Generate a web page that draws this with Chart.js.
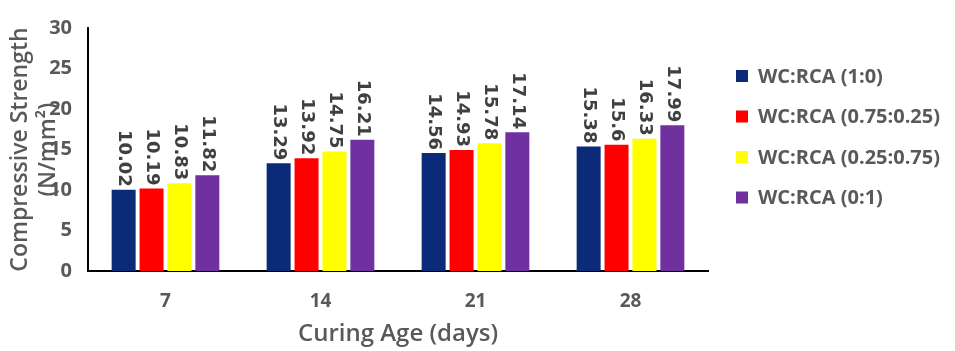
<!DOCTYPE html>
<html>
<head>
<meta charset="utf-8">
<script src="https://cdn.jsdelivr.net/npm/chart.js@4.4.1/dist/chart.umd.min.js"></script>
<style>
  html, body { margin: 0; padding: 0; background: #ffffff; }
  #wrap { width: 955px; height: 351px; position: relative; }
</style>
</head>
<body>
<div id="wrap"><canvas id="chart" width="955" height="351"></canvas></div>
<script>
// Curing ages (days) on the x axis
const categories = ['7', '14', '21', '28'];

// Series names
const seriesNames = ['WC:RCA (1:0)', 'WC:RCA (0.75:0.25)', 'WC:RCA (0.25:0.75)', 'WC:RCA (0:1)'];

// Compressive strength (N/mm²) per mix
const mix_1_0 = [10.02, 13.29, 14.56, 15.38];
const mix_075_025 = [10.19, 13.92, 14.93, 15.6];
const mix_025_075 = [10.83, 14.75, 15.78, 16.33];
const mix_0_1 = [11.82, 16.21, 17.14, 17.99];

const seriesColors = ['#0b2a78', '#ff0000', '#ffff00', '#7030a0'];

const yTicks = [0, 5, 10, 15, 20, 25, 30];
const yTitleLines = ['Compressive Strength', '(N/mm²)'];
const xTitle = 'Curing Age (days)';

const grayText = '#595959';
const uiFont = "'Open Sans', 'Liberation Sans', sans-serif";

// Rotated value labels sitting on top of each bar
const barValueLabels = {
  id: 'barValueLabels',
  afterDatasetsDraw(chart) {
    const ctx = chart.ctx;
    ctx.save();
    ctx.font = "bold 18px 'DejaVu Sans', sans-serif";
    ctx.fillStyle = '#404040';
    ctx.textAlign = 'right';
    ctx.textBaseline = 'middle';
    chart.data.datasets.forEach((ds, di) => {
      const meta = chart.getDatasetMeta(di);
      meta.data.forEach((bar, i) => {
        ctx.save();
        ctx.translate(bar.x, bar.y - 3);
        ctx.rotate(Math.PI / 2);
        ctx.fillText(String(ds.data[i]), 0, 0);
        ctx.restore();
      });
    });
    ctx.restore();
  }
};

// Two-line y axis title and the legend on the right
const sideDecor = {
  id: 'sideDecor',
  afterDraw(chart) {
    const ctx = chart.ctx;
    const area = chart.chartArea;
    ctx.save();
    // y axis title
    ctx.fillStyle = grayText;
    ctx.font = '600 23px ' + uiFont;
    ctx.textAlign = 'center';
    ctx.textBaseline = 'middle';
    const cy = (area.top + area.bottom) / 2;
    const colX = [20, 48];
    yTitleLines.forEach((line, i) => {
      ctx.save();
      ctx.translate(colX[i], cy);
      ctx.rotate(-Math.PI / 2);
      ctx.fillText(line, 0, 0);
      ctx.restore();
    });
    // legend
    ctx.font = 'bold 20px ' + uiFont;
    ctx.textAlign = 'left';
    chart.data.datasets.forEach((ds, i) => {
      const y = 76 + i * 40.5;
      ctx.fillStyle = ds.backgroundColor;
      ctx.fillRect(736, y - 6, 12, 12);
      ctx.fillStyle = grayText;
      ctx.fillText(ds.label, 758, y + 1);
    });
    ctx.restore();
  }
};

const seriesData = [mix_1_0, mix_075_025, mix_025_075, mix_0_1];

new Chart(document.getElementById('chart'), {
  type: 'bar',
  data: {
    labels: categories,
    datasets: seriesData.map((d, i) => ({
      label: seriesNames[i],
      data: d,
      backgroundColor: seriesColors[i],
      borderWidth: 0,
      categoryPercentage: 0.72,
      barPercentage: 0.86
    }))
  },
  options: {
    responsive: false,
    animation: false,
    devicePixelRatio: 1,
    layout: { padding: { top: 21, right: 247, left: 0, bottom: 0 } },
    plugins: {
      legend: { display: false },
      tooltip: { enabled: false }
    },
    scales: {
      x: {
        grid: { display: false, drawTicks: false },
        border: { display: true, color: '#000000', width: 2 },
        ticks: {
          color: grayText,
          font: { family: uiFont, size: 19, weight: 'bold' },
          padding: 19
        },
        title: {
          display: true,
          text: xTitle,
          color: grayText,
          font: { family: uiFont, size: 24, weight: '600' },
          padding: { top: 0, bottom: 2 }
        },
        afterFit(scale) { scale.height = 80; }
      },
      y: {
        min: 0,
        max: 30,
        grid: { display: false, drawTicks: false },
        border: { display: true, color: '#000000', width: 2 },
        afterBuildTicks(scale) { scale.ticks = yTicks.map(v => ({ value: v })); },
        ticks: {
          color: grayText,
          font: { family: uiFont, size: 20, weight: 'bold' },
          padding: 16
        },
        afterFit(scale) { scale.width = 88; }
      }
    }
  },
  plugins: [barValueLabels, sideDecor]
});
</script>
</body>
</html>
